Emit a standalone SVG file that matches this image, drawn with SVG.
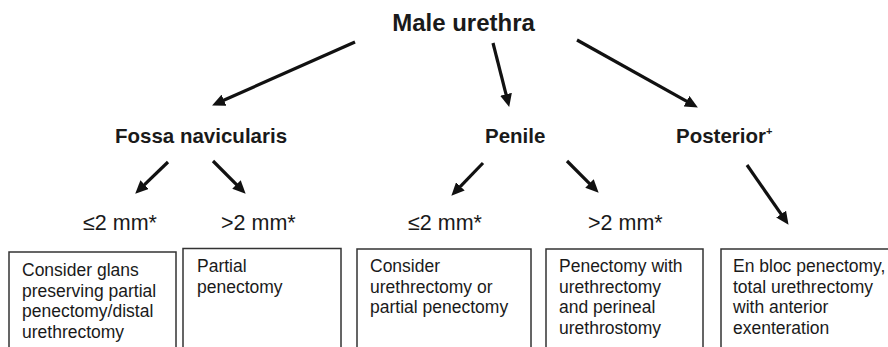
<svg xmlns="http://www.w3.org/2000/svg" width="888" height="347" viewBox="0 0 888 347">
<style>
.t{font-family:"Liberation Sans",Arial,Helvetica,sans-serif;fill:#1a1a1a}
.title{font-size:24px;font-weight:bold}
.node{font-size:20.5px;font-weight:bold}
.thr{font-size:21.5px}
.box{fill:#fff;stroke:#333;stroke-width:1.5}
.bt{font-size:17.5px}
.arr{stroke:#111;stroke-width:3.2;fill:none;marker-end:url(#ah)}
</style>
<defs>
<marker id="ah" markerUnits="userSpaceOnUse" markerWidth="14" markerHeight="12" refX="4" refY="6" orient="auto">
<path d="M0,0 L13,6 L0,12 z" fill="#111"/>
</marker>
</defs>
<rect width="888" height="347" fill="#fff"/>
<g id="connectors">
<line class="arr" x1="355" y1="42" x2="220.3" y2="101.8"/>
<line class="arr" x1="493" y1="43" x2="507" y2="98.2"/>
<line class="arr" x1="577" y1="40" x2="690" y2="103.1"/>
<line class="arr" x1="168" y1="162" x2="141.7" y2="187.4"/>
<line class="arr" x1="213" y1="161" x2="239.3" y2="187.3"/>
<line class="arr" x1="483" y1="163" x2="457.6" y2="189.3"/>
<line class="arr" x1="567" y1="161" x2="592.3" y2="186.3"/>
<line class="arr" x1="747" y1="165" x2="783.4" y2="217.4"/>
</g>
<g id="male-urethra"><text class="t title" x="463.5" y="31" text-anchor="middle">Male urethra</text></g>
<g id="fossa"><text class="t node" x="115" y="143">Fossa navicularis</text></g>
<g id="penile"><text class="t node" x="485" y="143">Penile</text></g>
<g id="posterior"><text class="t node" x="676" y="143">Posterior<tspan font-size="11" dy="-8">+</tspan></text></g>
<g id="fossa-le2"><text class="t thr" x="83" y="230">≤2 mm*</text></g>
<g id="fossa-gt2"><text class="t thr" x="221" y="230">&gt;2 mm*</text></g>
<g id="penile-le2"><text class="t thr" x="408" y="230">≤2 mm*</text></g>
<g id="penile-gt2"><text class="t thr" x="588" y="230">&gt;2 mm*</text></g>
<g id="box1">
<rect class="box" x="9" y="252" width="167" height="110"/>
<text class="t bt" x="22" y="276">Consider glans</text>
<text class="t bt" x="22" y="296.5">preserving partial</text>
<text class="t bt" x="22" y="317">penectomy/distal</text>
<text class="t bt" x="22" y="337.5">urethrectomy</text>
</g>
<g id="box2">
<rect class="box" x="183" y="248.5" width="158" height="110"/>
<text class="t bt" x="197" y="272">Partial</text>
<text class="t bt" x="197" y="292.5">penectomy</text>
</g>
<g id="box3">
<rect class="box" x="357" y="249" width="174" height="110"/>
<text class="t bt" x="370" y="272">Consider</text>
<text class="t bt" x="370" y="292.5">urethrectomy or</text>
<text class="t bt" x="370" y="313">partial penectomy</text>
</g>
<g id="box4">
<rect class="box" x="546" y="249" width="157" height="110"/>
<text class="t bt" x="559" y="272">Penectomy with</text>
<text class="t bt" x="559" y="292.5">urethrectomy</text>
<text class="t bt" x="559" y="313">and perineal</text>
<text class="t bt" x="559" y="333.5">urethrostomy</text>
</g>
<g id="box5">
<rect class="box" x="721" y="249" width="180" height="110"/>
<text class="t bt" x="733" y="272">En bloc penectomy,</text>
<text class="t bt" x="733" y="292.5">total urethrectomy</text>
<text class="t bt" x="733" y="313">with anterior</text>
<text class="t bt" x="733" y="333.5">exenteration</text>
</g>
</svg>
